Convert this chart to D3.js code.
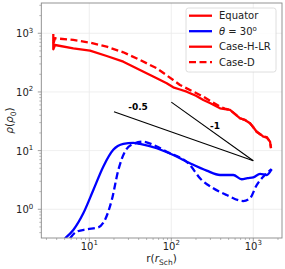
<!DOCTYPE html>
<html>
<head>
<meta charset="utf-8">
<script src="https://cdn.jsdelivr.net/npm/d3@7"></script>
<style>
  body { margin: 0; background: #fff; }
  text { font-family: "DejaVu Sans", sans-serif; }
</style>
</head>
<body>
<svg id="chart" width="285" height="269"></svg>
<script>
// Equator, Case-H-LR (red solid)
var eqHR_r   = [3.64, 3.64, 3.82, 6.38, 10.2, 16.3, 26.0, 41.5, 66.4, 87.9, 105.7, 127.6, 154, 200, 246, 300, 393, 450, 520, 600, 689, 800, 912, 1000, 1100, 1250, 1324, 1456, 1600, 1644];
var eqHR_rho = [748, 533, 631, 555, 505, 410, 328, 237, 171, 141, 120, 110, 101, 86, 73, 64, 52.6, 51, 49.3, 42, 35.6, 33, 29.2, 25, 21.0, 18.5, 17.3, 16.9, 14.2, 11.0];
// Equator, Case-D (red dashed)
var eqD_r   = [3.64, 3.64, 3.82, 6.38, 10.2, 16.3, 26.0, 41.5, 66.4, 105.7, 127.6, 154, 246, 393, 450, 520, 600, 689, 800, 912, 1000, 1100, 1250, 1324, 1456, 1600, 1644];
var eqD_rho = [973, 657, 822, 769, 691, 591, 474, 351, 253, 160, 131.5, 115, 83, 56.1, 52, 49.3, 42, 35.6, 33, 29.2, 25, 21.0, 18.5, 17.3, 16.9, 14.2, 11.0];
// theta = 30, Case-H-LR (blue solid)
var thHR_r   = [5.05, 6.38, 8.45, 11.2, 14.8, 19.6, 26.0, 34.4, 41.5, 66.4, 105.7, 169, 270, 393, 570, 722, 850, 1000, 1208, 1456, 1675];
var thHR_rho = [0.32, 0.444, 0.855, 2.13, 5.32, 10.3, 13.0, 13.6, 13.0, 10.96, 8.4, 6.08, 4.55, 3.84, 3.84, 3.25, 3.4, 3.51, 4.0, 3.84, 4.81];
// theta = 30, Case-D (blue dashed)
var thD_r   = [5.82, 7.02, 9.3, 12.9, 15.5, 18.8, 22.6, 27.2, 34.4, 45.6, 60.3, 87.9, 169, 224, 325, 474, 755, 912, 1100, 1324, 1675];
var thD_rho = [0.32, 0.415, 0.456, 0.493, 0.657, 1.44, 4.68, 9.6, 13.0, 14.2, 12.5, 9.6, 5.69, 3.38, 2.28, 1.75, 1.38, 1.54, 2.59, 3.60, 4.81];

// reference slopes
var slopeLabels = ['-0.5', '-1'];
var slope05 = [[20, 46], [1000, 6.7]];
var slope1  = [[100, 67], [1000, 6.7]];

var xTicks = [10, 100, 1000];
var yTicks = [1, 10, 100, 1000];
var legendLabels = ['Equator', 'θ = 30', 'Case-H-LR', 'Case-D'];

var svg = d3.select('#chart');
var x = d3.scaleLog().domain([2.598, 2239]).range([41.3, 282]);
var y = d3.scaleLog().domain([0.324, 3281]).range([238, 3]);

// grid
svg.append('g').selectAll('line').data(xTicks).enter().append('line')
  .attr('x1', function(d) { return x(d); }).attr('x2', function(d) { return x(d); })
  .attr('y1', 3).attr('y2', 238)
  .attr('stroke', '#ebebeb').attr('stroke-width', 0.8);
svg.append('g').selectAll('line').data(yTicks).enter().append('line')
  .attr('y1', function(d) { return y(d); }).attr('y2', function(d) { return y(d); })
  .attr('x1', 41.3).attr('x2', 282)
  .attr('stroke', '#ebebeb').attr('stroke-width', 0.8);

// axes
var minorX = [], minorY = [];
[1, 10, 100, 1000].forEach(function(p) {
  for (var k = 2; k < 10; k++) {
    if (p * k > 2.598 && p * k < 2239) minorX.push(p * k);
  }
});
[0.1, 1, 10, 100, 1000].forEach(function(p) {
  for (var k = 2; k < 10; k++) {
    if (p * k > 0.324 && p * k < 3281) minorY.push(p * k);
  }
});

var gx = svg.append('g').attr('transform', 'translate(0,238)');
gx.selectAll('line.minor').data(minorX).enter().append('line')
  .attr('x1', function(d) { return x(d); }).attr('x2', function(d) { return x(d); })
  .attr('y1', 0).attr('y2', 2).attr('stroke', '#888').attr('stroke-width', 0.6);
gx.selectAll('line.major').data(xTicks).enter().append('line')
  .attr('x1', function(d) { return x(d); }).attr('x2', function(d) { return x(d); })
  .attr('y1', 0).attr('y2', 3.5).attr('stroke', '#888').attr('stroke-width', 0.8);
var xl = gx.selectAll('text').data(xTicks).enter().append('text')
  .attr('x', function(d) { return x(d); }).attr('y', 11.5)
  .attr('text-anchor', 'middle').attr('font-size', 10).attr('fill', '#222');
xl.append('tspan').text('10');
xl.append('tspan').attr('font-size', 7).attr('dy', -4.5).text(function(d) { return Math.round(Math.log10(d)); });

var gy = svg.append('g').attr('transform', 'translate(41.3,0)');
gy.selectAll('line.minor').data(minorY).enter().append('line')
  .attr('y1', function(d) { return y(d); }).attr('y2', function(d) { return y(d); })
  .attr('x1', 0).attr('x2', -2).attr('stroke', '#888').attr('stroke-width', 0.6);
gy.selectAll('line.major').data(yTicks).enter().append('line')
  .attr('y1', function(d) { return y(d); }).attr('y2', function(d) { return y(d); })
  .attr('x1', 0).attr('x2', -3.5).attr('stroke', '#888').attr('stroke-width', 0.8);
var yl = gy.selectAll('text').data(yTicks).enter().append('text')
  .attr('x', -8).attr('y', function(d) { return y(d) + 4; })
  .attr('text-anchor', 'end').attr('font-size', 10).attr('fill', '#222');
yl.append('tspan').text('10');
yl.append('tspan').attr('font-size', 7).attr('dy', -4.5).text(function(d) { return Math.round(Math.log10(d)); });

// curves
svg.append('clipPath').attr('id', 'clip').append('rect')
  .attr('x', 41.3).attr('y', 3).attr('width', 240.7).attr('height', 235);
var plot = svg.append('g').attr('clip-path', 'url(#clip)');
var line = d3.line().x(function(d) { return x(d[0]); }).y(function(d) { return y(d[1]); });
var smooth = d3.line().curve(d3.curveMonotoneX)
  .x(function(d) { return x(d[0]); }).y(function(d) { return y(d[1]); });
var zip = function(a, b) { return a.map(function(v, i) { return [v, b[i]]; }); };

var curves = [
  { r: thD_r,  rho: thD_rho,  color: '#0000ff', dash: '7,3.5', gen: smooth },
  { r: thHR_r, rho: thHR_rho, color: '#0000ff', dash: null, gen: smooth },
  { r: eqD_r,  rho: eqD_rho,  color: '#ff0000', dash: '7,3.5', gen: line },
  { r: eqHR_r, rho: eqHR_rho, color: '#ff0000', dash: null, gen: line }
];
curves.forEach(function(c) {
  plot.append('path').attr('d', c.gen(zip(c.r, c.rho)))
    .attr('fill', 'none').attr('stroke', c.color).attr('stroke-width', 2.3)
    .attr('stroke-dasharray', c.dash).attr('stroke-linejoin', 'round');
});

[slope05, slope1].forEach(function(s) {
  plot.append('path').attr('d', line(s)).attr('fill', 'none')
    .attr('stroke', '#000').attr('stroke-width', 1.1);
});
svg.append('text').attr('x', 138).attr('y', 110).attr('text-anchor', 'middle')
  .attr('font-size', 9).attr('font-weight', 'bold').text(slopeLabels[0]);
svg.append('text').attr('x', 215).attr('y', 128.5).attr('text-anchor', 'middle')
  .attr('font-size', 9).attr('font-weight', 'bold').text(slopeLabels[1]);

// spines
svg.append('rect').attr('x', 41.3).attr('y', 3).attr('width', 240.7).attr('height', 235)
  .attr('fill', 'none').attr('stroke', '#888').attr('stroke-width', 0.9);

// labels
var ylab = svg.append('text').attr('transform', 'translate(13,120.5) rotate(-90)')
  .attr('text-anchor', 'middle').attr('font-size', 10.5).attr('fill', '#222');
ylab.append('tspan').attr('font-style', 'italic').text('ρ');
ylab.append('tspan').text('(');
ylab.append('tspan').attr('font-style', 'italic').text('ρ');
ylab.append('tspan').attr('font-size', 7.5).attr('dy', 2.5).text('0');
ylab.append('tspan').attr('dy', -2.5).text(')');

var xlab = svg.append('text').attr('x', 161.5).attr('y', 262)
  .attr('text-anchor', 'middle').attr('font-size', 10.5).attr('fill', '#222');
xlab.append('tspan').text('r(');
xlab.append('tspan').attr('font-style', 'italic').text('r');
xlab.append('tspan').attr('font-size', 7.5).attr('dy', 2.5).text('Sch');
xlab.append('tspan').attr('dy', -2.5).text(')');

// legend
var leg = svg.append('g');
leg.append('rect').attr('x', 186).attr('y', 8).attr('width', 90).attr('height', 64)
  .attr('rx', 2.5).attr('fill', '#fff').attr('fill-opacity', 0.85)
  .attr('stroke', '#d5d5d5').attr('stroke-width', 0.8);
var legStyle = [
  { color: '#ff0000', dash: null },
  { color: '#0000ff', dash: null },
  { color: '#ff0000', dash: null },
  { color: '#ff0000', dash: '7,3.5' }
];
legendLabels.forEach(function(lbl, i) {
  var yy = 15.7 + i * 15.5;
  leg.append('line').attr('x1', 189).attr('x2', 212).attr('y1', yy).attr('y2', yy)
    .attr('stroke', legStyle[i].color).attr('stroke-width', 2.3)
    .attr('stroke-dasharray', legStyle[i].dash);
  var t = leg.append('text').attr('x', 219).attr('y', yy + 3.6)
    .attr('font-size', 10).attr('fill', '#222');
  if (i === 1) {
    t.append('tspan').attr('font-style', 'italic').text('θ');
    t.append('tspan').text(' = 30');
    t.append('tspan').attr('font-size', 7).attr('dy', -4).text('o');
  } else {
    t.text(lbl);
  }
});
</script>
</body>
</html>
